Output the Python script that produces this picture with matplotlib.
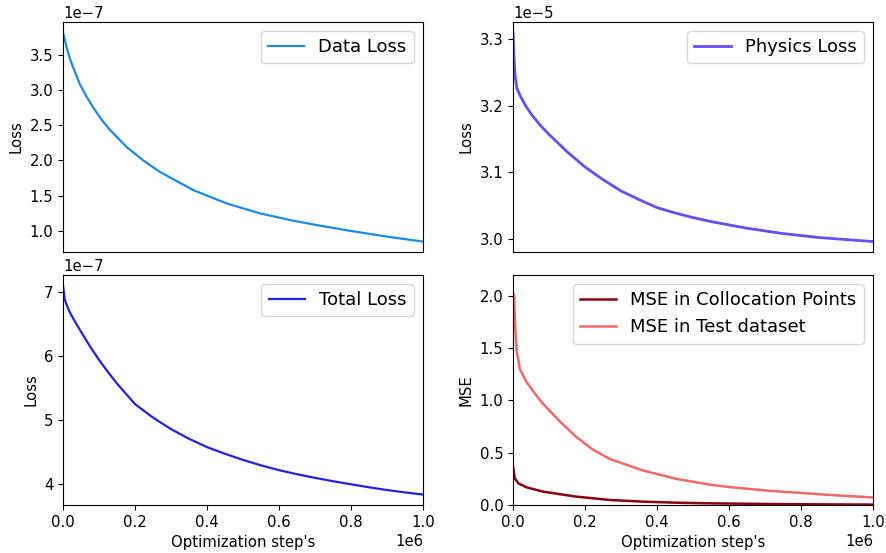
import matplotlib
matplotlib.use("Agg")
import matplotlib.pyplot as plt
from matplotlib.ticker import MultipleLocator
import numpy as np

# training history, sampled at optimization steps (x 1e6)
steps_data = [0, 0.0056, 0.0102, 0.0194, 0.029, 0.047, 0.066, 0.084, 0.107, 0.131, 0.177, 0.223,
              0.269, 0.362, 0.455, 0.547, 0.64, 0.714, 0.8, 0.9, 1.0]
data_loss = [3.815, 3.70, 3.60, 3.44, 3.31, 3.08, 2.90, 2.75, 2.58, 2.43, 2.19, 2.00,
             1.838, 1.579, 1.39, 1.25, 1.145, 1.075, 1.00, 0.92, 0.85]  # x 1e-7

steps_phys = [0, 0.003, 0.006, 0.011, 0.02, 0.035, 0.05, 0.075, 0.1, 0.15, 0.2, 0.25, 0.3, 0.35,
              0.4, 0.45, 0.5, 0.55, 0.6, 0.65, 0.7, 0.75, 0.8, 0.85, 0.9, 0.95, 1.0]
physics_loss = [3.31, 3.27, 3.245, 3.226, 3.215, 3.200, 3.188, 3.171, 3.157, 3.131, 3.108, 3.089,
                3.072, 3.059, 3.047, 3.039, 3.032, 3.026, 3.021, 3.016, 3.012, 3.008, 3.005,
                3.002, 3.000, 2.998, 2.996]  # x 1e-5

steps_total = [0, 0.005, 0.01, 0.02, 0.035, 0.05, 0.075, 0.1, 0.125, 0.15, 0.2, 0.25, 0.3, 0.35,
               0.4, 0.45, 0.5, 0.55, 0.6, 0.65, 0.7, 0.75, 0.8, 0.85, 0.9, 0.95, 1.0]
total_loss = [7.10, 6.88, 6.80, 6.67, 6.52, 6.38, 6.15, 5.94, 5.75, 5.57, 5.25, 5.04, 4.86, 4.71,
              4.58, 4.475, 4.38, 4.295, 4.22, 4.157, 4.10, 4.048, 4.00, 3.953, 3.91, 3.873, 3.84]  # x 1e-7

steps_test = [0, 0.003, 0.006, 0.01, 0.019, 0.037, 0.06, 0.083, 0.13, 0.176, 0.222, 0.269, 0.361,
              0.454, 0.546, 0.6, 0.714, 0.8, 0.9, 1.0]
mse_test = [2.03, 2.0, 1.72, 1.48, 1.30, 1.18, 1.07, 0.97, 0.80, 0.65, 0.53, 0.44, 0.33,
            0.25, 0.195, 0.172, 0.135, 0.115, 0.092, 0.072]

steps_colloc = [0, 0.005, 0.015, 0.037, 0.083, 0.176, 0.269, 0.361, 0.454, 0.546, 0.7, 0.85, 1.0]
mse_colloc = [0.366, 0.255, 0.207, 0.17, 0.128, 0.08, 0.048, 0.032, 0.022, 0.016, 0.010, 0.006, 0.004]

plt.rcParams['font.size'] = 10.7

fig, axs = plt.subplots(2, 2, figsize=(8.86, 5.53), dpi=100)
fig.subplots_adjust(left=0.0711, right=0.9853, top=0.9602, bottom=0.0868, wspace=0.25, hspace=0.1)

ax = axs[0, 0]
ax.plot(np.array(steps_data) * 1e6, np.array(data_loss) * 1e-7, color='#1E88E5', lw=1.6, label='Data Loss')
ax.yaxis.set_major_locator(MultipleLocator(0.5e-7))
ax.set_ylabel('Loss')

ax = axs[0, 1]
ax.plot(np.array(steps_phys) * 1e6, np.array(physics_loss) * 1e-5, color='#6A4CF0', lw=2.0, label='Physics Loss')
ax.yaxis.set_major_locator(MultipleLocator(0.1e-5))
ax.set_ylabel('Loss')

ax = axs[1, 0]
ax.plot(np.array(steps_total) * 1e6, np.array(total_loss) * 1e-7, color='#2222DD', lw=1.6, label='Total Loss')
ax.yaxis.set_major_locator(MultipleLocator(1e-7))
ax.set_ylabel('Loss')
ax.set_xlabel("Optimization step's")

ax = axs[1, 1]
ax.plot(np.array(steps_colloc) * 1e6, mse_colloc, color='#8B0010', lw=1.8, label='MSE in Collocation Points')
ax.plot(np.array(steps_test) * 1e6, mse_test, color='#F26868', lw=1.8, label='MSE in Test dataset')
ax.yaxis.set_major_locator(MultipleLocator(0.5))
ax.set_ylabel('MSE')
ax.set_xlabel("Optimization step's")
ax.set_ylim(0, 2.2)

for a in axs.flat:
    a.set_xlim(0, 1e6)
    a.legend(loc='upper right', fontsize=13)
for a in axs[0]:
    a.set_xticks([])

fig.savefig('out.png', dpi=100)
